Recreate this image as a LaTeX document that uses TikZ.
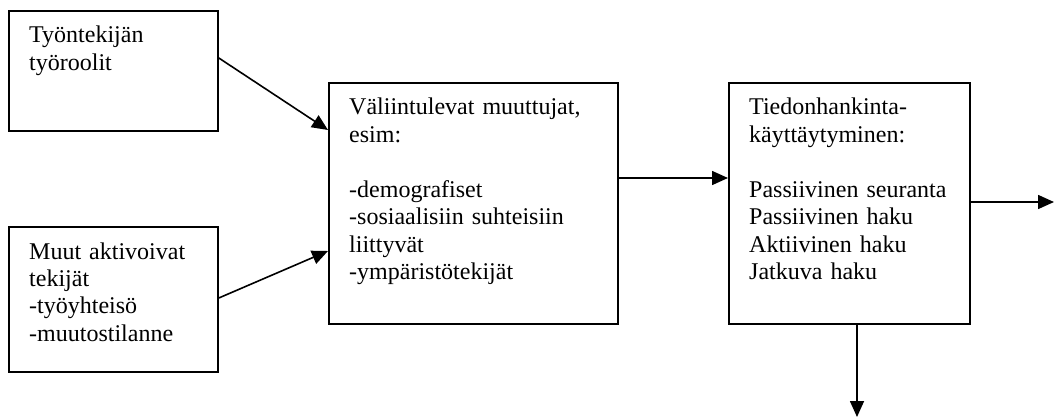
\documentclass[tikz,border=0pt]{standalone}
\usepackage{fontspec}
\setmainfont{Liberation Serif}
\usetikzlibrary{arrows.meta,calc}
\begin{document}
\begin{tikzpicture}[x=1pt,y=-1pt,
  box/.style={draw, line width=1.8pt, rectangle, inner sep=0pt, anchor=north west},
  txt/.style={anchor=base west, align=left, text width=260pt, inner sep=0pt, font=\fontsize{24}{27.4}\selectfont},
  arr/.style={line width=1.6pt, -{Triangle[length=16pt,width=14pt]}}]
\useasboundingbox (0,0) rectangle (1054,417);
\node[box, minimum width=209pt, minimum height=120pt] (b1) at (8,10) {};
\node[box, minimum width=209pt, minimum height=145pt] (b2) at (8,226) {};
\node[box, minimum width=289pt, minimum height=241pt] (b3) at (328,82) {};
\node[box, minimum width=241pt, minimum height=241pt] (b4) at (728,82) {};
\node[txt] (t1) at ($(b1.north west)+(21,33)$) {Työntekijän\\työroolit};
\node[txt] (t2) at ($(b2.north west)+(21,33)$) {Muut aktivoivat\\tekijät\\-työyhteisö\\-muutostilanne};
\node[txt] (t3) at ($(b3.north west)+(21,33)$) {Väliintulevat muuttujat,\\esim:\\[27.4pt]-demografiset\\-sosiaalisiin suhteisiin\\liittyvät\\-ympäristötekijät};
\node[txt] (t4) at ($(b4.north west)+(21,33)$) {Tiedonhankinta-\\käyttäytyminen:\\[27.4pt]Passiivinen seuranta\\Passiivinen haku\\Aktiivinen haku\\Jatkuva haku};
\coordinate (e1) at (1054,202);
\coordinate (e2) at (857,417);
\draw[arr] ($(b1.north east)+(0,48)$) -- ($(b3.north west)+(0,48)$);
\draw[arr] ($(b2.north east)+(0,72)$) -- ($(b3.north west)+(0,169)$);
\draw[arr] ($(b3.north east)+(0,96)$) -- ($(b4.north west)+(0,96)$);
\draw[arr] ($(b4.north east)+(0,120)$) -- (e1);
\draw[arr] ($(b4.south west)+(129,0)$) -- (e2);
\end{tikzpicture}
\end{document}
